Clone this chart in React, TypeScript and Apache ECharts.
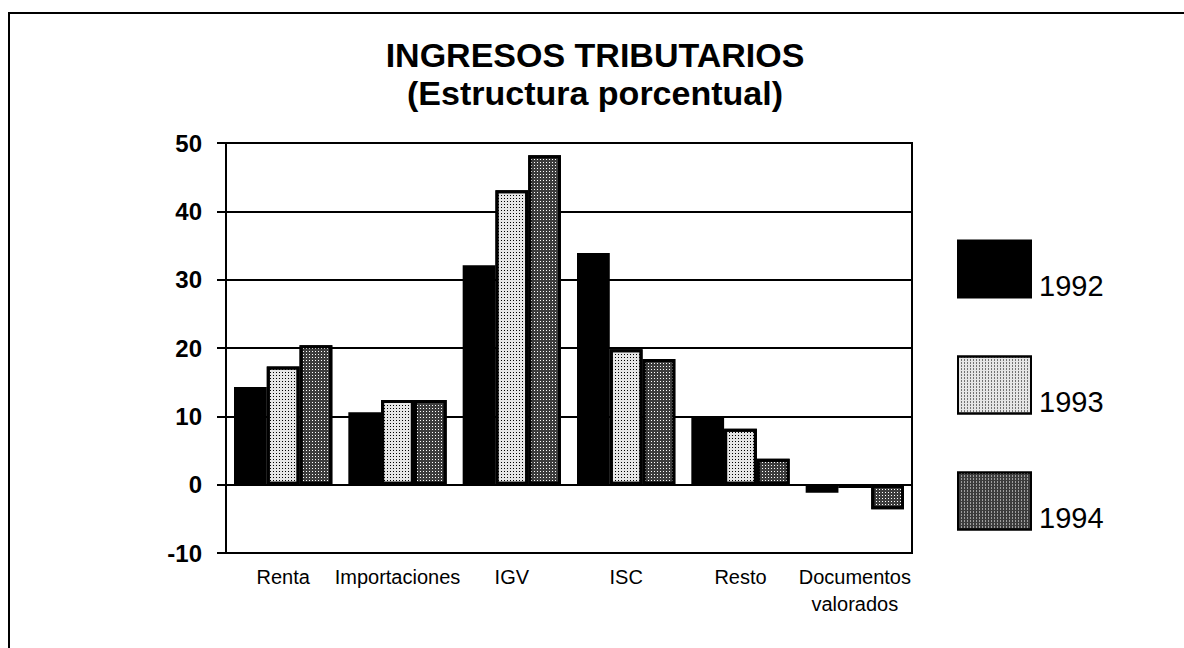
import React, { useEffect, useRef } from "react";
import * as echarts from "echarts";

const categories = ["Renta", "Importaciones", "IGV", "ISC", "Resto", "Documentos\nvalorados"];
const years = ["1992", "1993", "1994"];
const values1992 = [14.3, 10.6, 32.1, 33.9, 9.9, -1.2];
const values1993 = [17.3, 12.4, 43.1, 19.8, 8.2, -0.5];
const values1994 = [20.4, 12.4, 48.2, 18.4, 3.8, -3.6];
const yTicks = { min: -10, max: 50, interval: 10 };

const FONT = "'Liberation Sans', Arial, Helvetica, sans-serif";

export default function App() {
  const ref = useRef<HTMLDivElement>(null);
  useEffect(() => {
    if (!ref.current) return;
    const chart = echarts.init(ref.current, null, { renderer: "svg" });
    const option = {
      animation: false,
      backgroundColor: "#ffffff",
      title: {
        text: "INGRESOS TRIBUTARIOS",
        subtext: "(Estructura porcentual)",
        left: 590,
        textAlign: "center",
        top: 33,
        itemGap: 4,
        textStyle: { fontFamily: FONT, fontWeight: "bold", fontSize: 34, color: "#000" },
        subtextStyle: { fontFamily: FONT, fontWeight: "bold", fontSize: 34, color: "#000" },
      },
      legend: {
        orient: "vertical",
        left: 952,
        top: 230,
        itemWidth: 73,
        itemHeight: 57,
        itemGap: 48,
        icon: "rect",
        data: years,
        formatter: (name: string) => "\n" + name,
        textStyle: { fontFamily: FONT, fontSize: 29, lineHeight: 34, color: "#000", padding: [0, 0, 0, 3] },
      },
      grid: {
        left: 226,
        right: 272,
        top: 143,
        bottom: 95,
        show: true,
        borderColor: "#000",
        borderWidth: 2,
        containLabel: false,
      },
      xAxis: {
        type: "category",
        data: categories,
        axisLine: { show: true, onZero: false, lineStyle: { color: "#000", width: 2 } },
        axisTick: { show: false },
        axisLabel: {
          interval: 0,
          margin: 10,
          fontFamily: FONT,
          fontSize: 20,
          lineHeight: 27,
          color: "#000",
        },
      },
      yAxis: {
        type: "value",
        min: yTicks.min,
        max: yTicks.max,
        interval: yTicks.interval,
        axisLine: { show: true, lineStyle: { color: "#000", width: 2 } },
        axisTick: { show: true, length: 9, lineStyle: { color: "#000", width: 2 } },
        splitLine: { show: true, lineStyle: { color: "#000", width: 2 } },
        axisLabel: {
          margin: 24,
          fontFamily: FONT,
          fontSize: 24,
          fontWeight: "bold",
          color: "#000",
          padding: [0, 0, 8, 0],
        },
      },
      series: [
        {
          name: years[0],
          type: "bar",
          data: values1992,
          barGap: "0%",
          barCategoryGap: "14%",
          itemStyle: { color: "#000", borderColor: "#000", borderWidth: 2 },
        },
        {
          name: years[1],
          type: "bar",
          data: values1993,
          barGap: "0%",
          barCategoryGap: "14%",
          itemStyle: {
            color: "#e6e6e6",
            borderColor: "#000",
            borderWidth: 3,
            decal: {
              symbol: "rect",
              symbolSize: 1,
              dashArrayX: [1, 2],
              dashArrayY: [1, 2],
              color: "#000",
            },
          },
        },
        {
          name: years[2],
          type: "bar",
          data: values1994,
          barGap: "0%",
          barCategoryGap: "14%",
          itemStyle: {
            color: "#3c3c3c",
            borderColor: "#000",
            borderWidth: 3,
            decal: {
              symbol: "rect",
              symbolSize: 1,
              dashArrayX: [1, 2],
              dashArrayY: [1, 2],
              color: "#ffffff",
            },
          },
        },
      ],
      graphic: [
        {
          type: "rect",
          shape: { x: 9, y: 13, width: 1400, height: 900 },
          style: { fill: "none", stroke: "#000", lineWidth: 2 },
          silent: true,
        },
      ],
    };
    chart.setOption(option);
    return () => chart.dispose();
  }, []);
  return (
    <div
      ref={ref}
      style={{ position: "fixed", left: 0, top: 0, width: 1184, height: 648 }}
    />
  );
}
